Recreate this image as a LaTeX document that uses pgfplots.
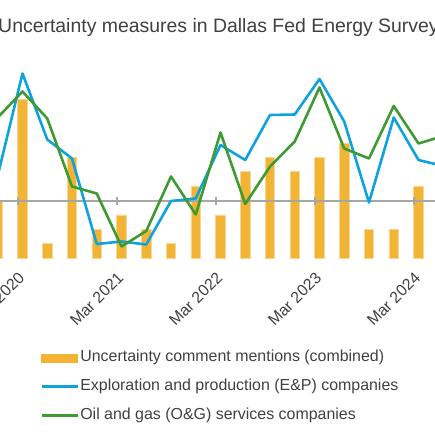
\documentclass[border=0pt]{standalone}
\usepackage{pgfplots}
\pgfplotsset{compat=1.18}
\usepackage{pgfplotstable}
\usepackage{fontspec}
\setmainfont{Liberation Sans}
\definecolor{barc}{RGB}{242,180,52}
\definecolor{baredge}{RGB}{249,214,150}
\definecolor{bluec}{RGB}{14,163,222}
\definecolor{greenc}{RGB}{62,155,50}
\definecolor{zeroc}{RGB}{166,166,166}
\definecolor{txt}{RGB}{64,64,64}
\pgfplotsset{
  longline legend/.style={legend image code/.code={\draw[##1] (0bp,0bp) -- (36bp,0bp);}},
  barbox legend/.style={legend image code/.code={\fill[barc] (0bp,-4bp) rectangle (36bp,4bp);}},
}

% quarter index: 0 = Dec 2019, 1 = Mar 2020, ... 17 = Mar 2024, 18 = Jun 2024
\pgfplotstableread{
k  mentions
0  4
1  11
2  1
3  7
4  2
5  3
6  2
7  1
8  5
9  3
10 6
11 7
12 6
13 7
14 8
15 2
16 2
17 5
}\barsdata
\pgfplotstableread{
k  ep     og
0  0.51   1.67
1  2.55   2.19
2  1.23   1.65
3  0.85   0.29
4  -0.86  0.15
5  -0.81  -0.91
6  -0.87  -0.60
7  0.00   0.49
8  0.05   -0.27
9  1.12   1.37
10 0.82   -0.06
11 1.72   0.69
12 1.73   1.19
13 2.44   2.27
14 1.59   1.05
15 -0.03  0.85
16 1.67   1.90
17 0.82   1.15
18 0.70   1.30
}\linesdata

\begin{document}
\begin{tikzpicture}
\useasboundingbox (0bp,0bp) rectangle (435bp,435bp);
\clip (0bp,0bp) rectangle (435bp,435bp);
\node[anchor=base, font=\fontsize{19.5}{23}\selectfont, text=txt, inner sep=0pt] at (218.5bp,402.7bp) {Uncertainty measures in Dallas Fed Energy Survey};
\begin{axis}[
  at={(0bp,158bp)}, anchor=south west, scale only axis,
  width=435bp, height=232bp,
  xmin=0.0909, xmax=17.667, ymin=-1.319, ymax=14.79,
  hide axis, ybar, bar width=9.5bp,
]
\addplot[fill=barc, draw=baredge, line width=0.5bp] table[x=k, y=mentions] {\barsdata};
\end{axis}
\begin{axis}[
  at={(0bp,158bp)}, anchor=south west, scale only axis,
  width=435bp, height=232bp,
  xmin=0.0909, xmax=17.667, ymin=-1.52, ymax=3.12,
  axis line style={draw=none}, major tick length=0pt,
  ytick=\empty,
  xtick={1,5,9,13,17},
  xticklabels={Mar 2020,Mar 2021,Mar 2022,Mar 2023,Mar 2024},
  xticklabel style={rotate=45, anchor=east, font=\fontsize{16}{19}\selectfont, text=txt, xshift=4bp, yshift=2bp},
  legend cell align=left,
  legend style={draw=none, fill=none, inner sep=0pt, at={(axis description cs:0.092,-0.3134)}, anchor=north west,
    font=\fontsize{16}{19}\selectfont, text=txt, row sep=12.7bp, column sep=1.5bp,
    nodes={inner sep=0pt, text height=12bp, text depth=4bp}},
]
\addplot[zeroc, line width=1.8bp, forget plot] coordinates {(-1,0) (19,0)};
\draw[zeroc, line width=1.8bp] ([yshift=-4bp]axis cs:0.83,0) -- ([yshift=4bp]axis cs:0.83,0);
\draw[zeroc, line width=1.8bp] ([yshift=-4bp]axis cs:4.83,0) -- ([yshift=4bp]axis cs:4.83,0);
\draw[zeroc, line width=1.8bp] ([yshift=-4bp]axis cs:8.83,0) -- ([yshift=4bp]axis cs:8.83,0);
\draw[zeroc, line width=1.8bp] ([yshift=-4bp]axis cs:12.83,0) -- ([yshift=4bp]axis cs:12.83,0);
\draw[zeroc, line width=1.8bp] ([yshift=-4bp]axis cs:16.83,0) -- ([yshift=4bp]axis cs:16.83,0);
\addlegendimage{barbox legend}
\addlegendentry{Uncertainty comment mentions (combined)}
\addplot[bluec, line width=2.6bp, line join=round, longline legend] table[x=k, y=ep] {\linesdata};
\addlegendentry{Exploration and production (E\&P) companies}
\addplot[greenc, line width=2.6bp, line join=round, longline legend] table[x=k, y=og] {\linesdata};
\addlegendentry{Oil and gas (O\&G) services companies}
\end{axis}
\end{tikzpicture}
\end{document}
